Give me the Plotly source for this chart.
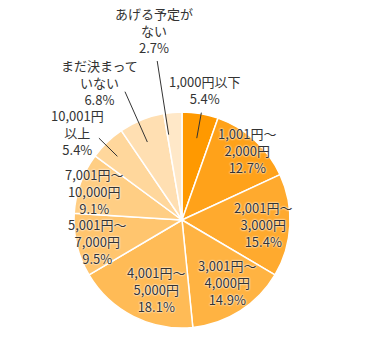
import math
import plotly.graph_objects as go

labels = ["1,000円以下", "1,001円～<br>2,000円", "2,001円～<br>3,000円", "3,001円～<br>4,000円",
          "4,001円～<br>5,000円", "5,001円～<br>7,000円", "7,001円～<br>10,000円",
          "10,001円<br>以上", "まだ決まって<br>いない", "あげる予定が<br>ない"]
values = [5.4, 12.7, 15.4, 14.9, 18.1, 9.5, 9.1, 5.4, 6.8, 2.7]
colors = ["#FF9900", "#FFA21A", "#FFAA2E", "#FFB342", "#FFBB56", "#FFC56E",
          "#FFCE84", "#FFD79C", "#FFDFB2", "#FFE8C8"]

W, H = 367, 338
CX, CY, R = 182, 220, 108

# label placement: (radius factor, angle offset in degrees)
lab_r = [1.22, 0.88, 0.75, 0.71, 0.69, 0.81, 0.86, 1.26, 1.49, 1.77]
lab_da = [0, 1, 0, -3, -6, -1, -2, -6, -9, -3.5]
# leader lines for outer labels: (inner r, outer r, angle offset)
leaders = {0: (0.77, 1.01, 0.5), 7: (0.84, 1.08, -1.5), 8: (0.79, 1.30, -2), 9: (0.80, 1.49, -4)}

fig = go.Figure(go.Pie(
    labels=labels, values=values, sort=False, direction="clockwise", rotation=0,
    marker=dict(colors=colors, line=dict(color="white", width=1.5)),
    textinfo="none", hoverinfo="skip",
    domain=dict(x=[(CX - R) / W, (CX + R) / W], y=[1 - (CY + R) / H, 1 - (CY - R) / H]),
))

total = sum(values)
cum = 0
ann = []
shapes = []
for i, v in enumerate(values):
    mid = (cum + v / 2) / total * 360
    cum += v
    a = math.radians(mid + lab_da[i])
    r = lab_r[i] * R
    px = CX + r * math.sin(a)
    py = CY - r * math.cos(a)
    ann.append(dict(x=px / W, y=1 - py / H, xref="paper", yref="paper",
                    xanchor="center", yanchor="middle",
                    text=f"{labels[i]}<br>{v:.1f}%", showarrow=False, align="center",
                    font=dict(size=13, color="#333333", family="Noto Sans CJK JP",
                              shadow="0px 0px 2px white, 0px 0px 2px white")))
    if i in leaders:
        ri, ro, da = leaders[i]
        b = math.radians(mid + da)
        x0 = CX + ri * R * math.sin(b); y0 = CY - ri * R * math.cos(b)
        x1 = CX + ro * R * math.sin(b); y1 = CY - ro * R * math.cos(b)
        shapes.append(dict(type="line", xref="paper", yref="paper",
                           x0=x0 / W, y0=1 - y0 / H, x1=x1 / W, y1=1 - y1 / H,
                           line=dict(color="#333333", width=1)))

fig.update_layout(width=W, height=H, margin=dict(l=0, r=0, t=0, b=0),
                  paper_bgcolor="white", showlegend=False,
                  annotations=ann, shapes=shapes)
fig.write_html("out.html")
